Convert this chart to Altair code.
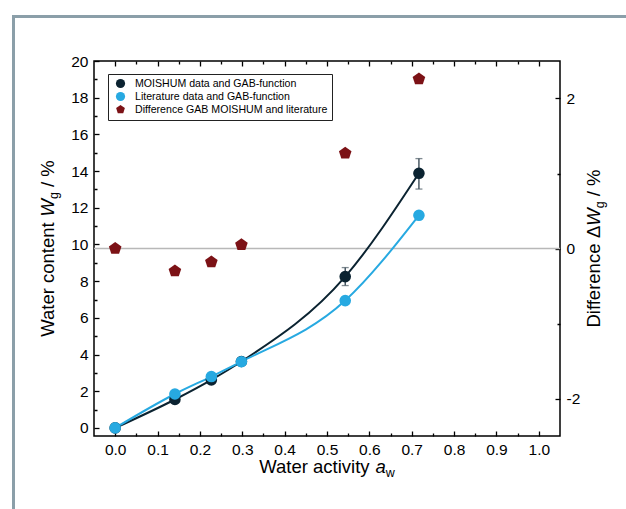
import altair as alt
import pandas as pd

# ---------------- data ----------------
aw = [0.0, 0.141, 0.227, 0.298, 0.543, 0.717]
w_moishum = [0.0, 1.55, 2.62, 3.62, 8.25, 13.88]
w_lit = [0.0, 1.85, 2.80, 3.61, 6.94, 11.59]
err_aw = [0.543, 0.717]
err_lo = [7.76, 13.02]
err_hi = [8.74, 14.68]
diff_w = [0.0, -0.30, -0.18, 0.05, 1.27, 2.26]

series = ["MOISHUM data and GAB-function",
          "Literature data and GAB-function",
          "Difference GAB MOISHUM and literature"]
colors = ["#0b2331", "#27a9e1", "#7c1216"]

x_ticks = [0.0, 0.05, 0.1, 0.15, 0.2, 0.25, 0.3, 0.35, 0.4, 0.45, 0.5,
           0.55, 0.6, 0.65, 0.7, 0.75, 0.8, 0.85, 0.9, 0.95, 1.0]
y_ticks = [0, 1, 2, 3, 4, 5, 6, 7, 8, 9, 10, 11, 12, 13, 14, 15, 16, 17, 18, 19, 20]
r_ticks = [-2, -1, 0, 1, 2]

FONT = "Liberation Sans"
W, H = 466, 375
PENT = "M0,-1L0.951,-0.309L0.588,0.809L-0.588,0.809L-0.951,-0.309Z"

# ---------------- frames ----------------
df_m = pd.DataFrame({"aw": aw, "W": w_moishum})
df_l = pd.DataFrame({"aw": aw, "W": w_lit})
df_pts = pd.DataFrame({"aw": aw + aw, "W": w_moishum + w_lit,
                       "series": [series[0]] * len(aw) + [series[1]] * len(aw)})
df_err = pd.DataFrame({"aw": err_aw, "lo": err_lo, "hi": err_hi})
df_caps = pd.DataFrame({"aw": err_aw + err_aw, "v": err_lo + err_hi})
df_diff = pd.DataFrame({"aw": aw, "d": diff_w, "series": [series[2]] * len(aw)})
df_zero = pd.DataFrame({"z": [0]})
one = pd.DataFrame({"a": [0]})

xscale = alt.Scale(domain=[-0.05, 1.05], nice=False, zero=False)
yl_scale = alt.Scale(domain=[-0.44, 20], nice=False, zero=False)
yr_scale = alt.Scale(domain=[-2.5, 2.5], nice=False, zero=False)

TICK_SOLID = [6, 0]
TICK_MINOR = [0, 2, 3, 10]

def ax(orient, values, minor_test, label_expr=None, labels=True):
    kw = dict(orient=orient, values=values, title=None, domain=False, grid=False,
              offset=-5, tickSize=5, tickWidth=1.3, tickColor="black",
              tickDash={"condition": {"test": minor_test, "value": TICK_MINOR},
                        "value": TICK_SOLID},
              labels=labels, labelFont=FONT, labelFontSize=15.5, labelColor="black",
              labelPadding=6, labelOverlap=False, labelFlush=False)
    if label_expr:
        kw["labelExpr"] = label_expr
    return alt.Axis(**kw)

x_minor = "round(datum.value*100) % 10 != 0"
x_bottom = ax("bottom", x_ticks, x_minor,
              "round(datum.value*100) % 10 == 0 ? format(datum.value, '.1f') : ''")
x_top = ax("top", x_ticks, x_minor, labels=False)
y_left = ax("left", y_ticks, "datum.value % 2 != 0",
            "datum.value % 2 == 0 ? toString(datum.value) : ''")
y_right = ax("right", r_ticks, "datum.value % 2 != 0",
             "datum.value % 2 == 0 ? toString(datum.value) : ''")

def legend():
    return alt.Legend(title=None, orient="none", legendX=14, legendY=13,
                      strokeColor="#222222", fillColor="white",
                      padding=4, symbolOffset=3, symbolSize=85,
                      labelFont=FONT, labelFontSize=10.6, labelLimit=400,
                      labelColor="black", rowPadding=1, labelOffset=9)

color_enc = alt.Color("series:N", scale=alt.Scale(domain=series, range=colors),
                      legend=legend())
shape_enc = alt.Shape("series:N",
                      scale=alt.Scale(domain=series, range=["circle", "circle", PENT]),
                      legend=legend())

# ---------------- layers ----------------
frame_v = alt.Chart(one).mark_rule(color="#8b9fa9", strokeWidth=3).encode(
    x=alt.value(-80.5), y=alt.value(-44.5), y2=alt.value(470))
frame_h = alt.Chart(one).mark_rule(color="#8b9fa9", strokeWidth=3).encode(
    x=alt.value(-82), x2=alt.value(560), y=alt.value(-44.5))

zero_rule = alt.Chart(df_zero).mark_rule(color="#b8b8b8", strokeWidth=1.5).encode(
    y=alt.Y("z:Q", scale=yr_scale, axis=None))

line_m = alt.Chart(df_m).mark_line(color=colors[0], strokeWidth=2,
                                   interpolate="monotone").encode(
    x=alt.X("aw:Q", scale=xscale, axis=x_bottom),
    y=alt.Y("W:Q", scale=yl_scale, axis=y_left))
line_l = alt.Chart(df_l).mark_line(color=colors[1], strokeWidth=2,
                                   interpolate="monotone").encode(
    x=alt.X("aw:Q", scale=xscale, axis=None),
    y=alt.Y("W:Q", scale=yl_scale, axis=None))

err_rule = alt.Chart(df_err).mark_rule(color="#2d3f4b", strokeWidth=1.3).encode(
    x=alt.X("aw:Q", scale=xscale, axis=None),
    y=alt.Y("lo:Q", scale=yl_scale, axis=None), y2="hi:Q")
err_caps = alt.Chart(df_caps).mark_tick(color="#4a5a64", orient="horizontal",
                                        size=7, thickness=1.3).encode(
    x=alt.X("aw:Q", scale=xscale, axis=None),
    y=alt.Y("v:Q", scale=yl_scale, axis=None))

circles = alt.Chart(df_pts).mark_point(filled=True, size=135, opacity=1).encode(
    x=alt.X("aw:Q", scale=xscale, axis=None),
    y=alt.Y("W:Q", scale=yl_scale, axis=None),
    color=color_enc, shape=shape_enc)

pents = alt.Chart(df_diff).mark_point(filled=True, size=175, opacity=1).encode(
    x=alt.X("aw:Q", scale=xscale, axis=x_top),
    y=alt.Y("d:Q", scale=yr_scale, axis=y_right),
    color=color_enc, shape=shape_enc)

# ---------------- axis titles (real text, with italic / subscript parts) ----------------
ARIAL = {'W': 944, 'a': 556, 't': 278, 'e': 556, 'r': 333, ' ': 278, 'c': 500,
         'o': 556, 'n': 556, 'i': 222, 'v': 500, 'y': 500, 'D': 722, 'f': 278,
         'Δ': 668, 'g': 556, 'w': 722, '/': 278, '%': 889}

def tw(s, size):
    return sum(ARIAL.get(ch, 556) for ch in s) * size / 1000.0

BIG, SUB = 18.5, 12.5
x_title = [("Water activity ", BIG, "normal", 0), ("a", BIG, "italic", 0),
           ("w", SUB, "normal", 4)]
yl_title = [("Water content ", BIG, "normal", 0), ("W", BIG, "italic", 0),
            ("g", SUB, "normal", 4), (" / %", BIG, "normal", 0)]
yr_title = [("Difference ", BIG, "normal", 0), ("Δ", BIG, "normal", 0),
            ("W", BIG, "italic", 0), ("g", SUB, "normal", 4), (" / %", BIG, "normal", 0)]

title_layers = []

def split_lead(t, s):
    stripped = t.lstrip(" ")
    return stripped, tw(t[:len(t) - len(stripped)], s)

def add_horizontal(pieces, cx, base_y):
    total = sum(tw(t, s) for t, s, _, _ in pieces)
    cur = cx - total / 2
    for t, s, st, sh in pieces:
        txt, lead = split_lead(t, s)
        title_layers.append(alt.Chart(one).mark_text(
            text=txt, font=FONT, fontSize=s, fontStyle=st, align="left",
            baseline="alphabetic", color="black").encode(
            x=alt.value(cur + lead), y=alt.value(base_y + sh)))
        cur += tw(t, s)

def add_vertical(pieces, cy, base_x):
    total = sum(tw(t, s) for t, s, _, _ in pieces)
    cur = cy + total / 2
    for t, s, st, sh in pieces:
        txt, lead = split_lead(t, s)
        title_layers.append(alt.Chart(one).mark_text(
            text=txt, font=FONT, fontSize=s, fontStyle=st, align="left",
            baseline="alphabetic", angle=270, color="black").encode(
            x=alt.value(base_x + sh), y=alt.value(cur - lead)))
        cur -= tw(t, s)

add_horizontal(x_title, W / 2, 412)
add_vertical(yl_title, H / 2, -40)
add_vertical(yr_title, H / 2, 506)

chart = alt.layer(
    frame_v, frame_h, zero_rule, line_m, line_l, err_rule, err_caps, circles, pents,
    *title_layers
).resolve_scale(y="independent").resolve_axis(x="independent", y="independent").properties(
    width=W, height=H,
    padding={"left": 94, "top": 61, "right": 66, "bottom": 73},
    autosize=alt.AutoSizeParams(type="none"),
    background="white",
).configure_view(stroke="black", strokeWidth=1.5)

chart.save("out.html", embed_options={"renderer": "svg", "actions": False})
